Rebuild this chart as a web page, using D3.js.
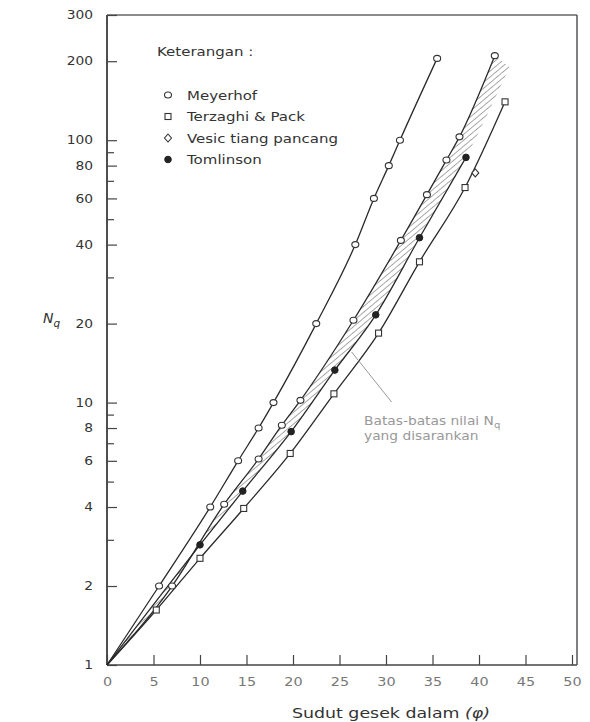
<!DOCTYPE html>
<html>
<head>
<meta charset="utf-8">
<script src="https://cdn.jsdelivr.net/npm/d3@7/dist/d3.min.js"></script>
<style>
  body { margin: 0; background: #fff; }
  text { font-family: "DejaVu Sans", "Liberation Sans", Arial, sans-serif; }
</style>
</head>
<body>
<svg id="chart" width="590" height="722"></svg>
<script>
// values (phi in degrees, Nq on log axis)
var phiMeyerhof = [0, 5.6, 11.1, 14.1, 16.3, 17.9, 22.5, 26.7, 28.7, 30.3, 31.5, 35.5];
var nqMeyerhof  = [1, 2, 4, 6, 8, 10, 20, 40, 60, 80, 100, 205];

var phiUpper = [0, 7.0, 12.6, 16.3, 18.8, 20.8, 26.5, 31.6, 34.4, 36.5, 37.9, 41.7];
var nqUpper  = [1, 2, 4.1, 6.1, 8.2, 10.2, 20.6, 41.5, 62, 84, 103, 210];

var phiTomlinson = [0, 10, 14.6, 19.8, 24.5, 28.9, 33.6, 38.6];
var nqTomlinson  = [1, 2.87, 4.6, 7.75, 13.3, 21.6, 42.5, 86];

var phiLower = [0, 5.3, 10, 14.7, 19.7, 24.4, 29.2, 33.6, 38.5, 42.8];
var nqLower  = [1, 1.62, 2.55, 3.95, 6.4, 10.8, 18.4, 34.4, 66, 140];

var phiVesic = [39.6];
var nqVesic  = [75];

// hatched band: upper curve down to tomlinson, extended to the top
var phiBandEnd = [43.3];
var nqBandEnd  = [190];

var xTicks = [0, 5, 10, 15, 20, 25, 30, 35, 40, 45, 50];
var yMajor = [1, 2, 4, 6, 8, 10, 20, 40, 60, 80, 100, 200, 300];
var yMinor = [3, 5, 7, 9, 30, 50, 70, 90];

var legendLabels = ["Meyerhof", "Terzaghi & Pack", "Vesic tiang pancang", "Tomlinson"];
var legendSymbols = ["circle", "square", "diamond", "dot"];

var svg = d3.select("#chart");
var plotL = 107, plotR = 572, plotT = 15, plotB = 665, frameR = 577;
var sx = 1.2; // the scanned lettering is wide, stretch text a bit

var x = d3.scaleLinear().domain([0, 50]).range([plotL, plotR]);
var y = d3.scaleLog().domain([1, 300]).range([plotB, plotT]);

function pts(px, py) {
    return px.map(function(d, i) { return [d, py[i]]; });
}

function wideText(parent, tx, ty) {
    return parent.append("g")
      .attr("transform", "translate(" + tx + "," + ty + ") scale(" + sx + ",1)")
      .append("text");
}

var line = d3.line()
  .x(function(d) { return x(d[0]); })
  .y(function(d) { return y(d[1]); })
  .curve(d3.curveMonotoneX);

// hatch pattern
var defs = svg.append("defs");
defs.append("pattern")
  .attr("id", "hatch")
  .attr("patternUnits", "userSpaceOnUse")
  .attr("width", 4.5).attr("height", 4.5)
  .attr("patternTransform", "rotate(50)")
  .append("line")
  .attr("x1", 0).attr("y1", 0).attr("x2", 0).attr("y2", 4.5)
  .attr("stroke", "#555").attr("stroke-width", 1);

var upperPts = pts(phiUpper, nqUpper);
var bandLow = pts(phiTomlinson.concat(phiBandEnd), nqTomlinson.concat(nqBandEnd));
var bandPath = line(upperPts) + "L" + line(bandLow.slice().reverse()).slice(1) + "Z";

svg.append("path")
  .attr("d", bandPath)
  .attr("fill", "url(#hatch)")
  .attr("stroke", "none");

// frame
svg.append("line").attr("x1", plotL).attr("x2", plotL).attr("y1", plotT).attr("y2", plotB)
  .attr("stroke", "#222").attr("stroke-width", 1.6);
svg.append("line").attr("x1", plotL).attr("x2", frameR).attr("y1", plotB).attr("y2", plotB)
  .attr("stroke", "#444").attr("stroke-width", 1.5);
svg.append("line").attr("x1", plotL).attr("x2", frameR).attr("y1", plotT).attr("y2", plotT)
  .attr("stroke", "#666").attr("stroke-width", 1.5);
svg.append("line").attr("x1", frameR).attr("x2", frameR).attr("y1", plotT).attr("y2", plotB)
  .attr("stroke", "#555").attr("stroke-width", 1.5);

// y axis, ticks pointing inward
var yAxis = svg.append("g")
  .attr("transform", "translate(" + plotL + ",0)")
  .call(d3.axisLeft(y).tickValues(yMajor).tickSize(-10).tickPadding(14)
        .tickFormat(d3.format("d")));
svg.append("g")
  .attr("transform", "translate(" + plotL + ",0)")
  .call(d3.axisLeft(y).tickValues(yMinor).tickSize(-7).tickFormat(""));

var xAxis = svg.append("g")
  .attr("transform", "translate(0," + plotB + ")")
  .call(d3.axisBottom(x).tickValues(xTicks).tickSize(-10).tickPadding(12));

svg.selectAll(".domain").remove();
svg.selectAll(".tick line").attr("stroke", "#444").attr("stroke-width", 1.2);
yAxis.selectAll("text")
  .attr("x", -14 / sx)
  .attr("transform", "scale(" + sx + ",1)")
  .attr("font-size", 11.5).attr("fill", "#333")
  .attr("font-family", "DejaVu Sans, sans-serif");
xAxis.selectAll("text")
  .attr("transform", "scale(" + sx + ",1)")
  .attr("font-size", 12).attr("fill", "#777")
  .attr("font-family", "DejaVu Sans, sans-serif");

// curves
var curves = [
    pts(phiMeyerhof, nqMeyerhof),
    upperPts,
    pts(phiTomlinson, nqTomlinson),
    pts(phiLower, nqLower)
];
svg.selectAll(".curve")
  .data(curves)
  .enter().append("path")
  .attr("class", "curve")
  .attr("d", line)
  .attr("fill", "none")
  .attr("stroke", "#2a2a2a")
  .attr("stroke-width", 1.3);

// markers (skip the common origin)
function drawSymbol(g, type, cx, cy) {
    if (type === "circle") {
        g.append("ellipse").attr("cx", cx).attr("cy", cy).attr("rx", 3.5).attr("ry", 3)
          .attr("fill", "#fff").attr("stroke", "#333").attr("stroke-width", 1.1);
    } else if (type === "square") {
        g.append("rect").attr("x", cx - 3).attr("y", cy - 3).attr("width", 6).attr("height", 6)
          .attr("fill", "#fff").attr("stroke", "#333").attr("stroke-width", 1.1);
    } else if (type === "diamond") {
        g.append("path")
          .attr("d", "M" + cx + "," + (cy - 4) + "L" + (cx + 3.5) + "," + cy + "L" + cx + "," + (cy + 4) + "L" + (cx - 3.5) + "," + cy + "Z")
          .attr("fill", "#fff").attr("stroke", "#333").attr("stroke-width", 1.1);
    } else {
        g.append("circle").attr("cx", cx).attr("cy", cy).attr("r", 3.3)
          .attr("fill", "#222").attr("stroke", "#222");
    }
}

var markers = svg.append("g").attr("class", "markers");
var markerSets = [
    [pts(phiMeyerhof, nqMeyerhof), "circle"],
    [upperPts, "circle"],
    [pts(phiLower, nqLower), "square"],
    [pts(phiVesic, nqVesic), "diamond"],
    [pts(phiTomlinson, nqTomlinson), "dot"]
];
markerSets.forEach(function(set) {
    set[0].forEach(function(d) {
        if (d[0] === 0) return;
        drawSymbol(markers, set[1], x(d[0]), y(d[1]));
    });
});

// legend
var legend = svg.append("g");
wideText(legend, 157, 56)
  .attr("font-size", 12.5).attr("fill", "#333")
  .text("Keterangan :");
legendLabels.forEach(function(lbl, i) {
    var ly = 95 + i * 21.5;
    drawSymbol(legend, legendSymbols[i], 168, ly);
    wideText(legend, 187, ly + 4.5)
      .attr("font-size", 12.5).attr("fill", "#333")
      .text(lbl);
});

// annotation for the recommended band
svg.append("line")
  .attr("x1", x(26.3)).attr("y1", y(15.6))
  .attr("x2", x(30.6)).attr("y2", y(10.05))
  .attr("stroke", "#999").attr("stroke-width", 1);
var note = wideText(svg, 364, 425)
  .attr("font-size", 11.5).attr("fill", "#999");
note.append("tspan").text("Batas-batas nilai N");
note.append("tspan").attr("font-size", 8.5).attr("dy", 3).text("q");
wideText(svg, 364, 440)
  .attr("font-size", 11.5).attr("fill", "#999")
  .text("yang disarankan");

// axis titles
var yTitle = svg.append("text")
  .attr("x", 43).attr("y", 323)
  .attr("font-size", 14).attr("fill", "#333").attr("font-style", "italic");
yTitle.append("tspan").text("N");
yTitle.append("tspan").attr("font-size", 10.5).attr("dy", 4).text("q");

var xTitle = wideText(svg, 391, 718)
  .attr("text-anchor", "middle")
  .attr("font-size", 14.5).attr("fill", "#333");
xTitle.append("tspan").text("Sudut gesek dalam ");
xTitle.append("tspan").attr("font-style", "italic").text("(φ)");
</script>
</body>
</html>
